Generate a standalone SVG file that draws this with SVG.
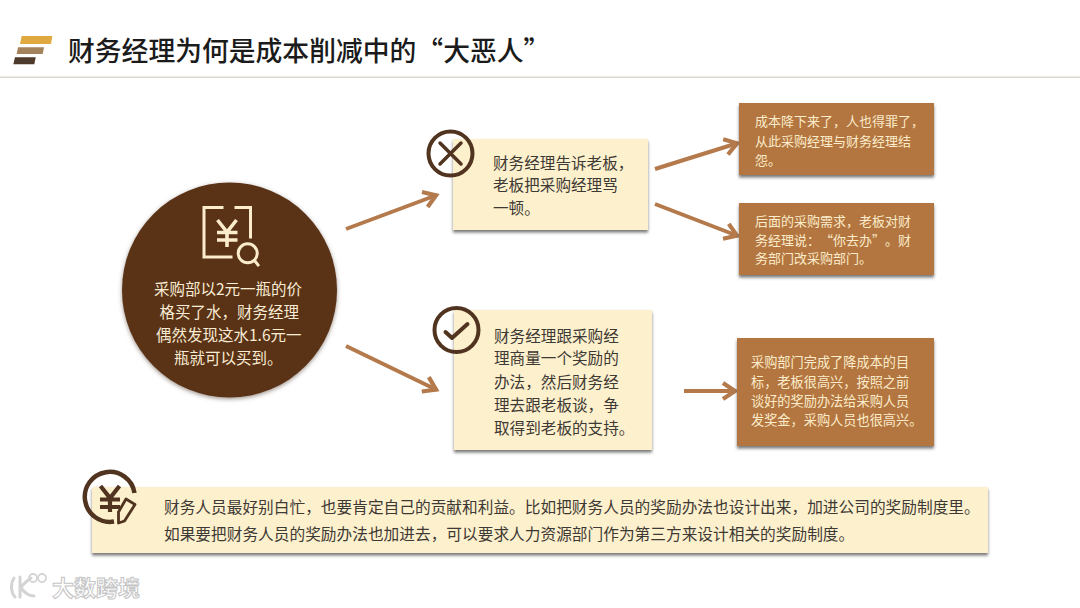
<svg xmlns="http://www.w3.org/2000/svg" width="1080" height="608" viewBox="0 0 1080 608">
<defs>
<filter id="sh" x="-5%" y="-10%" width="110%" height="125%"><feDropShadow dx="0" dy="2.5" stdDeviation="1.6" flood-color="#4a4a4a" flood-opacity="0.75"/></filter>
<filter id="soft" x="-5%" y="-5%" width="110%" height="112%"><feDropShadow dx="0" dy="1.5" stdDeviation="2" flood-color="#5a4a3a" flood-opacity="0.6"/></filter>
<marker id="ah" markerUnits="userSpaceOnUse" markerWidth="24" markerHeight="24" refX="19" refY="12" orient="auto" overflow="visible"><path d="M6 4L18 12L6 20" fill="none" stroke="#b47a4c" stroke-width="4.200" stroke-linejoin="miter"/></marker>
</defs>
<style>
text{font-family:"Noto Sans CJK SC","Noto Sans",sans-serif;text-spacing-trim:space-all}
.cream{fill:#fdf0cd}
.tan{fill:#b3763f}
.dk{fill:#3d3934;font-size:15.600px}
.note{font-size:15.700px}
.lt{fill:#fbeccb;font-size:13px}
.wh{fill:#f8ecd4;font-size:15.500px}
.conn{fill:none;stroke:#b47a4c;stroke-width:4px;marker-end:url(#ah)}
.ic{fill:none;stroke:#50341f;stroke-width:4px;stroke-linecap:round;stroke-linejoin:round}
.ic2{fill:none;stroke:#fbeccb;stroke-width:3px;stroke-linecap:square}
</style>
<rect width="1080" height="608" fill="#ffffff"/>
<g id="header">
<polygon points="21.700,36 52.300,36 51,44 20,44" fill="#dfa93f"/>
<polygon points="18,47.300 44,47.300 42.700,54 16.700,54" fill="#a4835c"/>
<polygon points="15,57.300 35.700,57.300 34.300,64.300 13.300,64.300" fill="#4e3a2b"/>
<text x="68" y="60.500" font-size="26.800" font-weight="500" fill="#1b1b1b">财务经理为何是成本削减中的“大恶人”</text>
<rect x="0" y="76.500" width="1080" height="1.500" fill="#ddd8d0"/>
</g>
<g id="connectors">
<line class="conn" x1="346" y1="229" x2="437" y2="195"/>
<line class="conn" x1="346" y1="346" x2="437" y2="390"/>
<line class="conn" x1="655" y1="169" x2="738" y2="143"/>
<line class="conn" x1="655" y1="204" x2="738" y2="236"/>
<line class="conn" x1="684" y1="391" x2="736" y2="391"/>
</g>
<g id="node-start">
<circle cx="229.500" cy="290" r="107.500" fill="#5a3214" filter="url(#soft)"/>
<path class="ic2" d="M222 207.500H204V257H231M236 207.500H250.500V237"/>
<circle cx="247.700" cy="253.300" r="9.500" class="ic2"/>
<path class="ic2" d="M254.500 260.500L258 265"/>
<path d="M217.500 220L227 232L236.500 220M217 232.500H237.500M217 240H237.500M227 232V247" fill="none" stroke="#fbeccb" stroke-width="3.600"/>
<text class="wh" x="154" y="295">采购部以2元一瓶的价</text>
<text class="wh" x="159.500" y="318">格买了水，财务经理</text>
<text class="wh" x="156" y="341">偶然发现这水1.6元一</text>
<text class="wh" x="174" y="363.500">瓶就可以买到。</text>
</g>
<g id="node-cross">
<rect class="cream" x="453" y="139" width="195" height="91" filter="url(#sh)"/>
<circle class="ic" cx="450.500" cy="153.500" r="22"/>
<path d="M440 143L461 164M461 143L440 164" class="ic" style="stroke-width:3.500px"/>
<text class="dk" x="493" y="168.500">财务经理告诉老板，</text>
<text class="dk" x="493" y="191">老板把采购经理骂</text>
<text class="dk" x="493" y="213.500">一顿。</text>
</g>
<g id="node-check">
<rect class="cream" x="454" y="310" width="198" height="140" filter="url(#sh)"/>
<circle class="ic" cx="456.500" cy="330" r="22"/>
<path d="M445.500 332L452 338L467.500 324" class="ic"/>
<text class="dk" x="494" y="341.500">财务经理跟采购经</text>
<text class="dk" x="494" y="364">理商量一个奖励的</text>
<text class="dk" x="494" y="387.500">办法，然后财务经</text>
<text class="dk" x="494" y="410.500">理去跟老板谈，争</text>
<text class="dk" x="494" y="433.500">取得到老板的支持。</text>
</g>
<g id="node-result1">
<rect class="tan" x="739" y="103" width="195" height="72" filter="url(#sh)"/>
<text class="lt" x="755" y="126">成本降下来了，人也得罪了，</text>
<text class="lt" x="755" y="145.500">从此采购经理与财务经理结</text>
<text class="lt" x="755" y="164.500">怨。</text>
</g>
<g id="node-result2">
<rect class="tan" x="739" y="203" width="195" height="72" filter="url(#sh)"/>
<text class="lt" x="755" y="225.500">后面的采购需求，老板对财</text>
<text class="lt" x="755" y="244.500">务经理说：“你去办”。财</text>
<text class="lt" x="755" y="263">务部门改采购部门。</text>
</g>
<g id="node-result3">
<rect class="tan" x="737" y="338" width="197" height="108" filter="url(#sh)"/>
<text class="lt" style="font-size:13.200px" x="751" y="366.500">采购部门完成了降成本的目</text>
<text class="lt" style="font-size:13.200px" x="751" y="386.500">标，老板很高兴，按照之前</text>
<text class="lt" style="font-size:13.200px" x="751" y="406">谈好的奖励办法给采购人员</text>
<text class="lt" style="font-size:13.200px" x="751" y="425">发奖金，采购人员也很高兴。</text>
</g>
<g id="node-note">
<rect class="cream" x="92" y="487" width="896" height="66" filter="url(#sh)"/>
<path d="M114 521.500A25 25 0 1 1 134.500 493" class="ic" style="stroke-width:4.500px;stroke-linecap:butt"/>
<path d="M100.500 486L110 498L119.500 486M100 499.500H120M100 507H120M110 498V512" fill="none" stroke="#50341f" stroke-width="4.200"/>
<polygon points="126,499 135,504.500 124.500,521 118.500,523 118.500,512" fill="none" stroke="#50341f" stroke-width="2.800" stroke-linejoin="round"/>
<text class="dk note" x="164" y="513">财务人员最好别白忙，也要肯定自己的贡献和利益。比如把财务人员的奖励办法也设计出来，加进公司的奖励制度里。</text>
<text class="dk note" x="164" y="540">如果要把财务人员的奖励办法也加进去，可以要求人力资源部门作为第三方来设计相关的奖励制度。</text>
</g>
<g id="watermark">
<path d="M14 578C10 584 11 593 15 597M20 577V597M31 578C24 583 21 587 21 588C24 592 29 596 34 596" fill="none" stroke="#d4d4d4" stroke-width="3" stroke-linecap="round"/>
<circle cx="33" cy="578" r="4" fill="none" stroke="#d4d4d4" stroke-width="1.800"/>
<circle cx="42" cy="578" r="4" fill="none" stroke="#d4d4d4" stroke-width="1.800"/>
<text x="52" y="596" font-size="22" fill="#ffffff" stroke="#c4c4c4" stroke-width="1" font-weight="700">大数跨境</text>
</g>
</svg>
